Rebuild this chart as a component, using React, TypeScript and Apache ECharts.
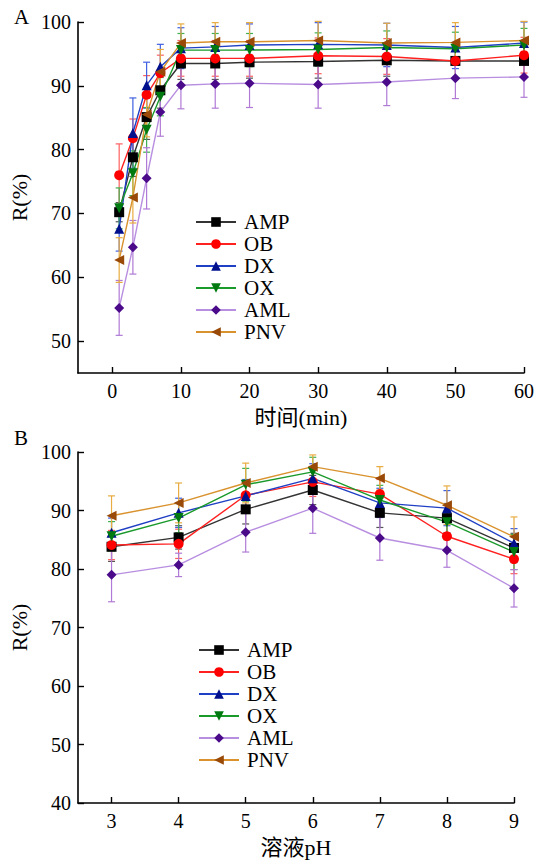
import React, { useEffect, useRef } from "react";
import * as echarts from "echarts";

// ---------- data ----------
const names = ["AMP", "OB", "DX", "OX", "AML", "PNV"];

// Panel A: time (min)
const timePoints = [1, 3, 5, 7, 10, 15, 20, 30, 40, 50, 60];
const timeTicks = [0, 10, 20, 30, 40, 50, 60];
const rTicksA = [50, 60, 70, 80, 90, 100];
const aAMP = [70.2, 78.8, 85.1, 89.3, 93.5, 93.5, 93.7, 93.8, 94.0, 93.9, 93.9];
const aOB = [76.0, 81.8, 88.6, 92.0, 94.3, 94.3, 94.3, 94.7, 94.6, 93.9, 94.8];
const aDX = [67.6, 82.6, 90.1, 93.0, 95.9, 96.1, 96.4, 96.5, 96.4, 96.0, 96.7];
const aOX = [70.8, 76.3, 83.1, 88.3, 95.6, 95.6, 95.6, 95.7, 96.0, 95.8, 96.4];
const aAML = [55.2, 64.7, 75.5, 85.9, 90.1, 90.3, 90.4, 90.2, 90.6, 91.2, 91.4];
const aPNV = [62.7, 72.5, 85.5, 92.2, 96.7, 96.9, 96.9, 97.1, 96.7, 96.8, 97.1];
const eAMP_A = [1.5, 3.0, 3.5, 2.8, 2.5, 2.5, 2.5, 2.6, 2.5, 2.6, 2.6];
const eOB_A = [4.9, 3.0, 3.0, 2.8, 2.8, 2.8, 2.8, 2.8, 2.8, 2.8, 2.8];
const eDX_A = [3.5, 5.5, 3.6, 3.5, 3.2, 3.2, 3.3, 3.4, 3.4, 3.3, 3.3];
const eOX_A = [3.2, 3.5, 3.5, 3.0, 2.6, 2.6, 2.6, 2.6, 2.6, 2.6, 2.6];
const eAML_A = [4.3, 4.2, 4.8, 3.8, 3.7, 3.8, 3.8, 3.7, 3.7, 3.2, 3.2];
const ePNV_A = [3.5, 4.0, 3.5, 3.5, 3.0, 3.0, 3.0, 3.0, 3.1, 3.1, 3.0];

// Panel B: solution pH
const phPoints = [3, 4, 5, 6, 7, 8, 9];
const phTicks = [3, 4, 5, 6, 7, 8, 9];
const rTicksB = [40, 50, 60, 70, 80, 90, 100];
const bAMP = [83.8, 85.4, 90.2, 93.5, 89.6, 88.7, 83.6];
const bOB = [84.1, 84.3, 92.6, 94.9, 92.8, 85.6, 81.7];
const bDX = [86.2, 89.6, 92.5, 95.5, 91.3, 90.4, 84.4];
const bOX = [85.6, 88.7, 94.4, 96.6, 91.8, 88.0, 82.9];
const bAML = [79.0, 80.7, 86.3, 90.4, 85.3, 83.2, 76.7];
const bPNV = [89.1, 91.3, 94.7, 97.5, 95.5, 90.9, 85.5];
const eAMP_B = [2.5, 2.0, 2.5, 2.5, 2.5, 2.5, 2.5];
const eOB_B = [2.5, 2.5, 2.5, 2.5, 2.5, 2.5, 2.5];
const eDX_B = [2.5, 2.5, 2.8, 2.5, 2.5, 3.0, 2.5];
const eOX_B = [2.5, 2.5, 2.8, 2.5, 2.5, 3.0, 3.0];
const eAML_B = [4.6, 2.0, 3.4, 4.3, 3.8, 2.9, 3.2];
const ePNV_B = [3.4, 3.4, 3.4, 2.0, 2.0, 3.3, 3.4];

// ---------- styles ----------
const FONT = "'Liberation Serif', 'Times New Roman', 'Noto Sans CJK SC', serif";
const styles = [
  { symbol: "rect", rotate: 0, marker: "#000000", line: "#333333", err: "#555555" },
  { symbol: "circle", rotate: 0, marker: "#ff0000", line: "#ff2020", err: "#ff6060" },
  { symbol: "triangle", rotate: 0, marker: "#00108c", line: "#1f3fc4", err: "#4060e0" },
  { symbol: "triangle", rotate: 180, marker: "#007a10", line: "#1a9a2a", err: "#40b050" },
  { symbol: "diamond", rotate: 0, marker: "#4a0a8a", line: "#b88ee0", err: "#b07ad6" },
  { symbol: "triangle", rotate: 90, marker: "#9a4a08", line: "#d9922e", err: "#e8ac40" },
];

export default function App() {
  const ref = useRef<HTMLDivElement>(null);
  useEffect(() => {
    if (!ref.current) return;
    const chart = echarts.init(ref.current, null, { renderer: "svg" });

    const panels = [
      { xs: timePoints, vals: [aAMP, aOB, aDX, aOX, aAML, aPNV], errs: [eAMP_A, eOB_A, eDX_A, eOX_A, eAML_A, ePNV_A] },
      { xs: phPoints, vals: [bAMP, bOB, bDX, bOX, bAML, bPNV], errs: [eAMP_B, eOB_B, eDX_B, eOX_B, eAML_B, ePNV_B] },
    ];

    const series: any[] = [];
    panels.forEach((p, pi) => {
      names.forEach((n, i) => {
        const st = styles[i];
        series.push({
          type: "custom",
          name: n + "-err" + pi,
          xAxisIndex: pi,
          yAxisIndex: pi,
          silent: true,
          z: 2,
          encode: { x: 0, y: [1, 2] },
          data: p.xs.map((x, j) => [x, p.vals[i][j] - p.errs[i][j], p.vals[i][j] + p.errs[i][j]]),
          renderItem: (params: any, api: any) => {
            const x = api.value(0);
            const lo = api.coord([x, api.value(1)]);
            const hi = api.coord([x, api.value(2)]);
            const w = 3.5;
            const s = { stroke: st.err, lineWidth: 1.2 };
            return {
              type: "group",
              children: [
                { type: "line", shape: { x1: lo[0], y1: lo[1], x2: hi[0], y2: hi[1] }, style: s },
                { type: "line", shape: { x1: hi[0] - w, y1: hi[1], x2: hi[0] + w, y2: hi[1] }, style: s },
                { type: "line", shape: { x1: lo[0] - w, y1: lo[1], x2: lo[0] + w, y2: lo[1] }, style: s },
              ],
            };
          },
        });
      });
      names.forEach((n, i) => {
        const st = styles[i];
        series.push({
          type: "line",
          name: n,
          xAxisIndex: pi,
          yAxisIndex: pi,
          z: 3,
          data: p.xs.map((x, j) => [x, p.vals[i][j]]),
          symbol: st.symbol,
          symbolSize: 10,
          symbolRotate: st.rotate,
          itemStyle: { color: st.marker },
          lineStyle: { color: st.line, width: 1.4 },
        });
      });
    });

    const axisLine = { show: true, onZero: false, lineStyle: { color: "#000", width: 1.6 } };
    const tickStyle = { color: "#000", width: 1.4 };
    const mkX = (gi: number, min: number, max: number, ticks: number[], name: string) => ({
      type: "value",
      gridIndex: gi,
      min,
      max,
      axisLine,
      axisTick: { show: true, inside: true, length: 6, customValues: ticks, lineStyle: tickStyle },
      axisLabel: { customValues: ticks, fontFamily: FONT, fontSize: 20, color: "#000", margin: 8 },
      splitLine: { show: false },
      name,
      nameLocation: "middle",
      nameGap: 33,
      nameTextStyle: { fontFamily: FONT, fontSize: 22, color: "#000" },
    });
    const mkY = (gi: number, min: number, max: number, ticks: number[]) => ({
      type: "value",
      gridIndex: gi,
      min,
      max,
      axisLine,
      axisTick: { show: true, inside: true, length: 6, customValues: ticks, lineStyle: tickStyle },
      axisLabel: { customValues: ticks, fontFamily: FONT, fontSize: 20, color: "#000", margin: 7 },
      splitLine: { show: false },
      name: "R(%)",
      nameLocation: "middle",
      nameGap: 34,
      nameTextStyle: { fontFamily: FONT, fontSize: 22, color: "#000" },
    });

    const legendBase = {
      data: names,
      orient: "vertical",
      padding: 0,
      itemWidth: 40,
      itemHeight: 12,
      itemGap: 0,
    };

    chart.setOption({
      animation: false,
      backgroundColor: "#ffffff",
      grid: [
        { left: 78, top: 22, width: 446, height: 351 },
        { left: 78, top: 452, width: 436, height: 351 },
      ],
      xAxis: [mkX(0, -5, 60, timeTicks, "时间(min)"), mkX(1, 2.5, 9, phTicks, "溶液pH")],
      yAxis: [mkY(0, 45, 100, rTicksA), mkY(1, 40, 100, rTicksB)],
      legend: [
        { ...legendBase, left: 195, top: 211, textStyle: { fontFamily: FONT, fontSize: 21, lineHeight: 22, color: "#000", padding: [0, 0, 0, 3] } },
        { ...legendBase, left: 198, top: 639, textStyle: { fontFamily: FONT, fontSize: 21, lineHeight: 22, color: "#000", padding: [0, 0, 0, 3] } },
      ],
      graphic: [
        { type: "text", left: 14, top: 6, style: { text: "A", font: `21px ${FONT}`, fill: "#000" } },
        { type: "text", left: 14, top: 427, style: { text: "B", font: `21px ${FONT}`, fill: "#000" } },
      ],
      series,
    });
    return () => chart.dispose();
  }, []);
  return <div ref={ref} style={{ position: "absolute", left: 0, top: 0, width: 540, height: 863 }} />;
}
